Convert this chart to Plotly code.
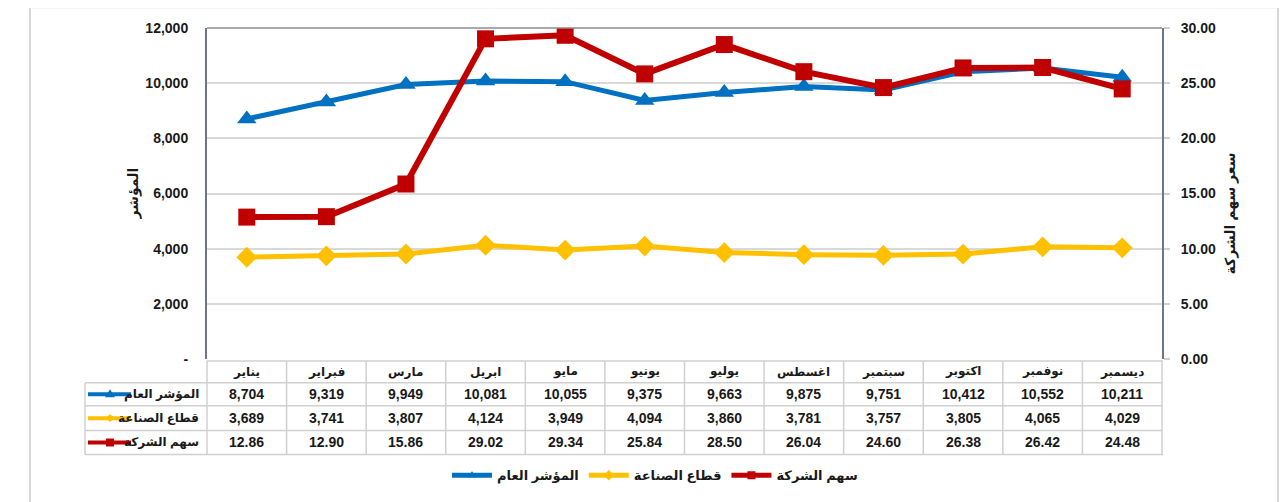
import plotly.graph_objects as go

months = ["يناير", "فبراير", "مارس", "ابريل", "مايو", "يونيو", "يوليو",
          "اغسطس", "سبتمبر", "اكتوبر", "نوفمبر", "ديسمبر"]
general_index = [8704, 9319, 9949, 10081, 10055, 9375, 9663, 9875, 9751, 10412, 10552, 10211]
industry = [3689, 3741, 3807, 4124, 3949, 4094, 3860, 3781, 3757, 3805, 4065, 4029]
share = [12.86, 12.90, 15.86, 29.02, 29.34, 25.84, 28.50, 26.04, 24.60, 26.38, 26.42, 24.48]

name_general = "المؤشر العام"
name_industry = "قطاع الصناعة"
name_share = "سهم الشركة"
left_title = "المؤشر"
right_title = "سعر سهم الشركة"
left_ticks = [0, 2000, 4000, 6000, 8000, 10000, 12000]
left_ticktext = ["-", "2,000", "4,000", "6,000", "8,000", "10,000", "12,000"]

BLUE = "#0070C0"
YELLOW = "#FFC000"
RED = "#C00000"
FONT = "Arial, Liberation Sans, DejaVu Sans, sans-serif"
TXT = "#1a1a1a"

# page offset (browser body margin)
OFF = 8
W, H = 1287 - OFF, 502 - OFF
# plot area in page pixels
PL, PR, PT, PB = 207, 1162, 28, 361


def px(x):
    return (x - PL) / (PR - PL)


def py(y):
    return (PB - y) / (PB - PT)


series = [
    (general_index, name_general, BLUE, "triangle-up", 17, 5, "y"),
    (industry, name_industry, YELLOW, "diamond", 16, 5, "y"),
    (share, name_share, RED, "square", 17, 6, "y2"),
]

fig = go.Figure()
for vals, name, color, sym, size, lw, yax in series:
    fig.add_trace(go.Scatter(x=months, y=vals, name=name, mode="lines+markers", yaxis=yax,
                             showlegend=False,
                             line=dict(color=color, width=lw),
                             marker=dict(symbol=sym, size=size, color=color)))
# legend entries (compact keys like the original)
for vals, name, color, sym, size, lw, yax in series:
    fig.add_trace(go.Scatter(x=[None], y=[None], name=name, mode="lines+markers", yaxis=yax,
                             line=dict(color=color, width=5),
                             marker=dict(symbol=sym, size=8, color=color)))

shapes = []
LINE_C = "#d0d0d0"
# outer border
shapes.append(dict(type="rect", xref="paper", yref="paper", x0=px(30), x1=px(1278), y0=py(520), y1=py(7),
                   line=dict(color="#d6d6d6", width=2), layer="below"))
# plot area top border
shapes.append(dict(type="line", xref="paper", yref="paper", x0=0, x1=1, y0=1, y1=1,
                   line=dict(color="#8c8c8c", width=1.5)))
# table grid
col_w = (PR - PL) / 12
rows_y = [385, 408, 433, 457]
shapes.append(dict(type="line", xref="paper", yref="paper", x0=0, x1=px(PR + 1), y0=py(363), y1=py(363),
                   line=dict(color=LINE_C, width=1.5)))
for ry in rows_y:
    shapes.append(dict(type="line", xref="paper", yref="paper", x0=px(85), x1=px(PR + 1), y0=py(ry), y1=py(ry),
                       line=dict(color=LINE_C, width=1.5)))
shapes.append(dict(type="line", xref="paper", yref="paper", x0=px(85), x1=px(85), y0=py(385), y1=py(457),
                   line=dict(color=LINE_C, width=1.5)))
for k in range(1, 13):
    xx = PL + k * col_w
    shapes.append(dict(type="line", xref="paper", yref="paper", x0=px(xx), x1=px(xx), y0=py(363), y1=py(457),
                       line=dict(color=LINE_C, width=1.5)))
shapes.append(dict(type="line", xref="paper", yref="paper", x0=0, x1=0, y0=py(363), y1=py(457),
                   line=dict(color=LINE_C, width=1.5)))

# legend keys in table label column
key_specs = [(BLUE, 396.5, "tri"), (YELLOW, 420.5, "dia"), (RED, 445, "sq")]
for color, ky, kind in key_specs:
    shapes.append(dict(type="line", xref="paper", yref="paper", x0=px(88), x1=px(131), y0=py(ky), y1=py(ky),
                       line=dict(color=color, width=4)))
    cx = 110
    if kind == "sq":
        shapes.append(dict(type="rect", xref="paper", yref="paper", x0=px(cx - 4), x1=px(cx + 4),
                           y0=py(ky + 4), y1=py(ky - 4), fillcolor=color, line=dict(width=0)))
    elif kind == "tri":
        path = f"M {px(cx-5)} {py(ky+3)} L {px(cx+5)} {py(ky+3)} L {px(cx)} {py(ky-5)} Z"
        shapes.append(dict(type="path", xref="paper", yref="paper", path=path, fillcolor=color, line=dict(width=0)))
    else:
        path = f"M {px(cx-5)} {py(ky)} L {px(cx)} {py(ky-4)} L {px(cx+5)} {py(ky)} L {px(cx)} {py(ky+4)} Z"
        shapes.append(dict(type="path", xref="paper", yref="paper", path=path, fillcolor=color, line=dict(width=0)))

annotations = []
# header months
for m in months:
    annotations.append(dict(x=m, xref="x", y=py(374), yref="paper", text=m, showarrow=False,
                            font=dict(family=FONT, size=12, color=TXT, weight="bold"), yanchor="middle"))
row_defs = [(general_index, lambda v: f"{v:,}", 396.5, name_general),
            (industry, lambda v: f"{v:,}", 420.5, name_industry),
            (share, lambda v: f"{v:.2f}", 445, name_share)]
for vals, fmt, ry, label in row_defs:
    for m, v in zip(months, vals):
        annotations.append(dict(x=m, xref="x", y=py(ry), yref="paper", text=fmt(v), showarrow=False,
                                font=dict(family=FONT, size=14, color=TXT, weight="bold"), yanchor="middle"))
    annotations.append(dict(x=px(201), xref="paper", y=py(ry), yref="paper", text=label, showarrow=False,
                            xanchor="right", yanchor="middle",
                            font=dict(family=FONT, size=12, color=TXT, weight="bold")))
# axis titles
annotations.append(dict(x=px(123), xref="paper", y=py(195), yref="paper", text=left_title, showarrow=False,
                        textangle=-90, font=dict(family=FONT, size=14, color=TXT, weight="bold")))
annotations.append(dict(x=px(1241), xref="paper", y=py(215), yref="paper", text=right_title, showarrow=False,
                        textangle=-90, font=dict(family=FONT, size=14, color=TXT, weight="bold")))

fig.update_layout(
    width=W, height=H,
    margin=dict(l=PL - OFF, r=W - (PR - OFF), t=PT - OFF, b=H - (PB - OFF)),
    plot_bgcolor="white", paper_bgcolor="white",
    font=dict(family=FONT, color=TXT),
    showlegend=True,
    legend=dict(orientation="h", x=px(655), xanchor="center", y=py(478), yanchor="middle",
                font=dict(family=FONT, size=13, color=TXT, weight="bold"), itemwidth=40,
                bgcolor="rgba(0,0,0,0)"),
    xaxis=dict(type="category", categoryorder="array", categoryarray=months, range=[-0.5, 11.5],
               showticklabels=False, showgrid=False, zeroline=False, showline=False, ticks=""),
    yaxis=dict(range=[0, 12000], tickvals=left_ticks, ticktext=left_ticktext,
               showgrid=True, gridcolor="#d9d9d9", gridwidth=1.5, zeroline=False,
               showline=True, linecolor="#6b7785", linewidth=2,
               tickfont=dict(family=FONT, size=14, color=TXT, weight="bold"),
               ticks="", ticklabelstandoff=14),
    yaxis2=dict(range=[0, 30], overlaying="y", side="right", tickvals=[0, 5, 10, 15, 20, 25, 30],
                tickformat=".2f", showgrid=False, zeroline=False,
                showline=True, linecolor="#6b7785", linewidth=2,
                ticks="outside", ticklen=6, tickcolor="#d0d0d0", tickwidth=1.5,
                tickfont=dict(family=FONT, size=14, color=TXT, weight="bold"), ticklabelstandoff=8),
    shapes=shapes,
    annotations=annotations,
)

fig.write_html("out.html")
